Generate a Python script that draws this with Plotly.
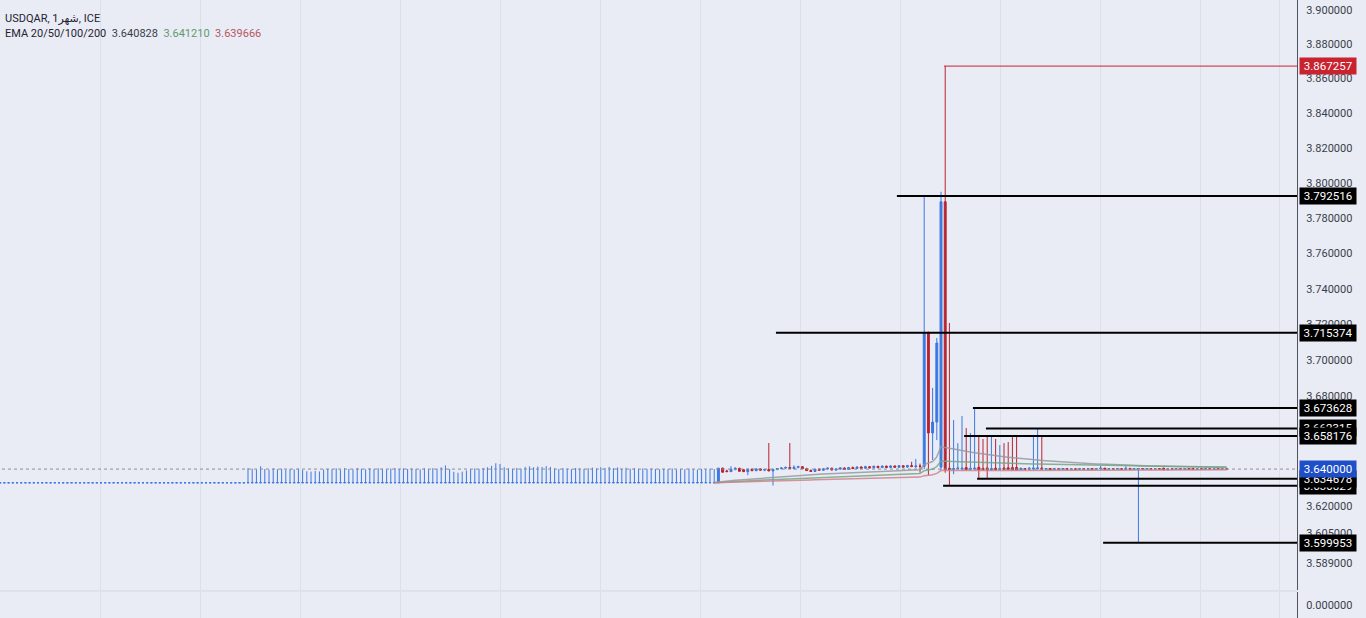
import math
import pandas as pd
import plotly.graph_objects as go

# ---------------- data ----------------
symbol_text = "USDQAR, 1شهر, ICE"
ema_label = "EMA 20/50/100/200"
ema_values_text = ["3.640828", "3.641210", "3.639666"]
ema_periods = [50, 100, 200]

# early flat months (open = high = low = close)
base_level = 3.6325
flat_count = 60

# months with a small up-wick from the base level
seg_c_open = 3.6325
seg_c_close = 3.6326
seg_c_low = 3.6325
seg_c_highs = [
    3.6405, 3.6402, 3.6398, 3.6415, 3.6400, 3.6396, 3.6404, 3.6399, 3.6402, 3.6397,
    3.6401, 3.6398, 3.6403, 3.6395, 3.6388, 3.6386, 3.6390, 3.6387, 3.6398, 3.6402,
    3.6400, 3.6404, 3.6398, 3.6405, 3.6401, 3.6399, 3.6406, 3.6402, 3.6398, 3.6404,
    3.6400, 3.6405, 3.6402, 3.6399, 3.6403, 3.6406, 3.6401, 3.6404, 3.6400, 3.6403,
    3.6401, 3.6398, 3.6404, 3.6400, 3.6405, 3.6402, 3.6410, 3.6420, 3.6400, 3.6385,
    3.6380, 3.6386, 3.6392, 3.6400, 3.6404, 3.6401, 3.6406, 3.6410, 3.6418, 3.6432,
    3.6428, 3.6410, 3.6404, 3.6401, 3.6406, 3.6402, 3.6412, 3.6415, 3.6410, 3.6414,
    3.6411, 3.6416, 3.6412, 3.6404, 3.6401, 3.6405, 3.6402, 3.6400, 3.6406, 3.6403,
    3.6401, 3.6405, 3.6408, 3.6404, 3.6410, 3.6406, 3.6412, 3.6405, 3.6409, 3.6403,
    3.6407, 3.6402, 3.6405, 3.6401, 3.6404, 3.6400, 3.6403, 3.6401, 3.6399, 3.6402,
    3.6400, 3.6403, 3.6398, 3.6401, 3.6399, 3.6402, 3.6400, 3.6397, 3.6401, 3.6399,
    3.6402, 3.6400,
]

# [open, high, low, close] rows
seg_d = [
    [3.6325, 3.6406, 3.6325, 3.6405],
    [3.6405, 3.6408, 3.6380, 3.6383], [3.6390, 3.6397, 3.6384, 3.6386],
    [3.6386, 3.6416, 3.6384, 3.6399], [3.6399, 3.6410, 3.6393, 3.6404],
    [3.6404, 3.6407, 3.6386, 3.6388], [3.6396, 3.6401, 3.6384, 3.6386],
    [3.6386, 3.6402, 3.6367, 3.6399], [3.6399, 3.6404, 3.6389, 3.6391],
    [3.6391, 3.6405, 3.6389, 3.6401], [3.6401, 3.6405, 3.6391, 3.6394],
    [3.6394, 3.6401, 3.6388, 3.6398], [3.6398, 3.6543, 3.6388, 3.6390],
    [3.6390, 3.6402, 3.6310, 3.6398], [3.6398, 3.6406, 3.6394, 3.6403],
    [3.6403, 3.6410, 3.6398, 3.6406], [3.6406, 3.6413, 3.6400, 3.6409],
    [3.6409, 3.6543, 3.6400, 3.6403], [3.6403, 3.6420, 3.6398, 3.6410],
    [3.6410, 3.6418, 3.6404, 3.6413], [3.6413, 3.6416, 3.6399, 3.6402],
    [3.6402, 3.6407, 3.6389, 3.6392], [3.6392, 3.6398, 3.6384, 3.6387],
    [3.6387, 3.6402, 3.6385, 3.6399], [3.6399, 3.6404, 3.6391, 3.6394],
    [3.6394, 3.6405, 3.6390, 3.6401], [3.6401, 3.6409, 3.6397, 3.6405],
    [3.6405, 3.6408, 3.6392, 3.6395], [3.6395, 3.6403, 3.6390, 3.6400],
    [3.6400, 3.6410, 3.6396, 3.6406], [3.6406, 3.6409, 3.6395, 3.6398],
    [3.6398, 3.6412, 3.6395, 3.6408], [3.6408, 3.6414, 3.6400, 3.6403],
    [3.6403, 3.6415, 3.6400, 3.6411], [3.6411, 3.6416, 3.6402, 3.6405],
    [3.6405, 3.6418, 3.6402, 3.6413], [3.6413, 3.6417, 3.6404, 3.6407],
    [3.6407, 3.6419, 3.6404, 3.6415], [3.6415, 3.6418, 3.6405, 3.6408],
    [3.6408, 3.6420, 3.6405, 3.6416], [3.6416, 3.6419, 3.6406, 3.6409],
    [3.6409, 3.6421, 3.6406, 3.6417], [3.6417, 3.6420, 3.6407, 3.6410],
    [3.6410, 3.6422, 3.6407, 3.6418], [3.6418, 3.6421, 3.6408, 3.6411],
    [3.6411, 3.6423, 3.6408, 3.6419], [3.6419, 3.6440, 3.6410, 3.6414],
    [3.6414, 3.6455, 3.6405, 3.6417], [3.6417, 3.6430, 3.6380, 3.6415],
]

seg_e = [
    [3.6415, 3.7925, 3.6400, 3.7154],
    [3.7154, 3.7160, 3.6367, 3.6598],
    [3.6598, 3.6847, 3.6450, 3.6658],
    [3.6658, 3.7124, 3.6559, 3.7096],
    [3.6411, 3.7949, 3.6395, 3.7892],
    [3.7892, 3.8673, 3.6380, 3.6395],
    [3.6405, 3.7208, 3.6308, 3.6398],
]

seg_f = [
    [3.6398, 3.6669, 3.6372, 3.6403], [3.6403, 3.6542, 3.6396, 3.6406],
    [3.6400, 3.6691, 3.6394, 3.6405], [3.6408, 3.6625, 3.6393, 3.6398],
    [3.6398, 3.6598, 3.6395, 3.6404], [3.6400, 3.6736, 3.6396, 3.6405],
    [3.6410, 3.6587, 3.6347, 3.6396], [3.6404, 3.6565, 3.6393, 3.6396],
    [3.6406, 3.6585, 3.6351, 3.6393], [3.6395, 3.6585, 3.6392, 3.6402],
    [3.6405, 3.6565, 3.6394, 3.6397], [3.6397, 3.6531, 3.6394, 3.6403],
    [3.6406, 3.6542, 3.6395, 3.6398], [3.6407, 3.6548, 3.6396, 3.6399],
    [3.6408, 3.6576, 3.6393, 3.6395], [3.6409, 3.6576, 3.6392, 3.6394],
    [3.6398, 3.6410, 3.6395, 3.6403], [3.6403, 3.6406, 3.6396, 3.6399],
    [3.6399, 3.6412, 3.6397, 3.6404], [3.6400, 3.6587, 3.6397, 3.6405],
    [3.6402, 3.6625, 3.6398, 3.6406], [3.6406, 3.6582, 3.6396, 3.6399],
]

seg_g = [
    [3.6399, 3.6406, 3.6395, 3.6403], [3.6403, 3.6405, 3.6396, 3.6398],
    [3.6398, 3.6404, 3.6396, 3.6402], [3.6402, 3.6404, 3.6397, 3.6399],
    [3.6399, 3.6405, 3.6397, 3.6403], [3.6403, 3.6405, 3.6396, 3.6398],
    [3.6398, 3.6403, 3.6396, 3.6401], [3.6401, 3.6404, 3.6397, 3.6399],
    [3.6399, 3.6404, 3.6397, 3.6402], [3.6402, 3.6404, 3.6397, 3.6399],
    [3.6399, 3.6405, 3.6397, 3.6402], [3.6402, 3.6404, 3.6398, 3.6400],
    [3.6400, 3.6404, 3.6398, 3.6402], [3.6402, 3.6418, 3.6398, 3.6405],
    [3.6405, 3.6406, 3.6397, 3.6399], [3.6399, 3.6404, 3.6397, 3.6402],
    [3.6402, 3.6404, 3.6398, 3.6400], [3.6400, 3.6404, 3.6398, 3.6402],
    [3.6402, 3.6404, 3.6397, 3.6399], [3.6399, 3.6415, 3.6397, 3.6404],
    [3.6404, 3.6405, 3.6397, 3.6399], [3.6399, 3.6404, 3.6397, 3.6402],
    [3.6399, 3.6405, 3.59995, 3.6403], [3.6403, 3.6404, 3.6398, 3.6400],
    [3.6400, 3.6404, 3.6398, 3.6402], [3.6402, 3.6403, 3.6398, 3.6400],
    [3.6400, 3.6404, 3.6398, 3.6402], [3.6402, 3.6403, 3.6398, 3.6400],
    [3.6405, 3.6407, 3.6394, 3.6396], [3.6396, 3.6403, 3.6395, 3.6401],
    [3.6401, 3.6403, 3.6398, 3.6400], [3.6400, 3.6403, 3.6398, 3.6402],
    [3.6402, 3.6403, 3.6398, 3.6400], [3.6400, 3.6403, 3.6398, 3.6402],
    [3.6402, 3.6403, 3.6398, 3.6400], [3.6404, 3.6406, 3.6395, 3.6397],
    [3.6397, 3.6403, 3.6396, 3.6401], [3.6401, 3.6403, 3.6398, 3.6400],
    [3.6400, 3.6403, 3.6398, 3.6402], [3.6402, 3.6403, 3.6398, 3.6400],
    [3.6400, 3.6403, 3.6398, 3.6401], [3.6401, 3.6403, 3.6398, 3.6400],
    [3.6400, 3.6403, 3.6398, 3.6401], [3.6401, 3.6402, 3.6399, 3.6400],
]

# horizontal rays drawn on the chart (price, starting bar index)
ray_prices = [3.792516, 3.715374, 3.673628, 3.630829, 3.634678, 3.662315, 3.658176, 3.599953]
ray_starts = [214.5, 185.7, 232.6, 225.5, 233.6, 235.7, 230.5, 263.6]
high_ray_price = 3.867257
high_ray_start = 225.7
last_price = 3.64

y_tick_vals = [3.9, 3.88, 3.86, 3.84, 3.82, 3.80, 3.78, 3.76, 3.74, 3.72, 3.70, 3.68,
               3.62, 3.605, 3.589]
lower_pane_tick = 0.0
grid_bars = [24.76, 48.57, 72.38, 96.19, 120.0, 143.81, 167.62, 191.43, 215.24,
             239.05, 262.86, 286.67, 305.71]

# ---------------- assemble ----------------
opens, highs, lows, closes = [], [], [], []
for _ in range(flat_count):
    opens.append(base_level); highs.append(base_level)
    lows.append(base_level); closes.append(base_level)
for h in seg_c_highs:
    opens.append(seg_c_open); highs.append(h)
    lows.append(seg_c_low); closes.append(seg_c_close)
for seg in (seg_d, seg_e, seg_f, seg_g):
    for o, h, l, c in seg:
        opens.append(o); highs.append(h); lows.append(l); closes.append(c)
bars = list(range(len(closes)))

UP = "#3b78e0"
DOWN = "#b8232f"
BG = "#e9ecf5"
GRID = "#dadfea"
FONT = "Roboto, 'DejaVu Sans', sans-serif"

fig = go.Figure()
fig.add_trace(go.Candlestick(
    x=bars, open=opens, high=highs, low=lows, close=closes,
    increasing=dict(line=dict(color=UP, width=1), fillcolor=UP),
    decreasing=dict(line=dict(color=DOWN, width=1), fillcolor=DOWN),
    whiskerwidth=0, hoverinfo="skip", xaxis="x", yaxis="y",
))

close_series = pd.Series(closes)
ema_colors = ["rgba(150,153,160,0.85)", "rgba(120,165,130,0.85)", "rgba(205,130,138,0.85)"]
start_ema = 171
for n, col in zip(ema_periods, ema_colors):
    ema = close_series.ewm(span=n, adjust=False).mean()
    fig.add_trace(go.Scatter(x=bars[start_ema:], y=list(ema[start_ema:]), mode="lines",
                             line=dict(color=col, width=1.5), hoverinfo="skip"))

fig.add_trace(go.Scatter(x=[0, 400], y=[last_price, last_price], mode="lines",
                         line=dict(color="#8a8d96", width=1, dash="dot"), hoverinfo="skip"))
for p, s in zip(ray_prices, ray_starts):
    fig.add_trace(go.Scatter(x=[s, 400], y=[p, p], mode="lines",
                             line=dict(color="#000000", width=2), hoverinfo="skip"))
fig.add_trace(go.Scatter(x=[high_ray_start, 400], y=[high_ray_price, high_ray_price], mode="lines",
                         line=dict(color="#c8232e", width=1), hoverinfo="skip"))
# empty lower pane
fig.add_trace(go.Scatter(x=[0], y=[lower_pane_tick], mode="lines", opacity=0,
                         hoverinfo="skip", xaxis="x2", yaxis="y2"))

main_h = 590
total_h = 618
ln_top = math.log(3.9) + 10 / 6654
ln_bot = math.log(3.9) - 580 / 6654

fig.update_layout(
    width=1366, height=618, margin=dict(l=0, r=69, t=0, b=0),
    paper_bgcolor=BG, plot_bgcolor=BG, showlegend=False, boxgap=0.35,
    font=dict(family=FONT, size=11, color="#2e323c"),
    xaxis=dict(range=[0.95, 309.76], tickvals=grid_bars, showticklabels=False, ticks="",
               showgrid=True, gridcolor=GRID, gridwidth=1, zeroline=False,
               rangeslider=dict(visible=False), anchor="y"),
    xaxis2=dict(matches="x", range=[0.95, 309.76], tickvals=grid_bars, showticklabels=False,
                ticks="", showgrid=True, gridcolor=GRID, zeroline=False, anchor="y2"),
    yaxis=dict(type="log", domain=[1 - main_h / total_h, 1],
               range=[ln_bot / math.log(10), ln_top / math.log(10)],
               side="right", anchor="x", tickvals=y_tick_vals,
               ticktext=[f"{v:.6f}" for v in y_tick_vals],
               showgrid=False, zeroline=False, showline=True, linecolor="#50535c", linewidth=1,
               ticks="", ticklabelstandoff=6, tickfont=dict(family=FONT, size=11, color="#3a3e48")),
    yaxis2=dict(domain=[0, 26 / total_h], range=[-1, 1], side="right", anchor="x2",
                tickvals=[lower_pane_tick], ticktext=[f"{lower_pane_tick:.6f}"],
                showgrid=False, zeroline=False, showline=True, linecolor="#50535c", linewidth=1,
                ticks="", ticklabelstandoff=6, tickfont=dict(family=FONT, size=11, color="#3a3e48")),
)

fig.add_shape(type="line", xref="paper", yref="paper", x0=0, x1=1,
              y0=1 - 591 / total_h, y1=1 - 591 / total_h, line=dict(color="#d3d7e1", width=1))

def price_label(p, bg):
    fig.add_annotation(x=1, xref="paper", xanchor="left", xshift=2,
                       y=math.log10(p), yref="y", yanchor="middle",
                       text=f"{p:.6f}", showarrow=False, bgcolor=bg, borderpad=1,
                       width=54, align="center",
                       font=dict(family=FONT, size=11.5, color="#ffffff"))

for p in ray_prices[:4]:
    price_label(p, "#000000")
price_label(ray_prices[4], "#000000")
price_label(last_price, "#1e4fc8")
price_label(ray_prices[5], "#000000")
price_label(ray_prices[6], "#000000")
price_label(ray_prices[7], "#000000")
price_label(high_ray_price, "#c8232e")

fig.add_annotation(x=0, xref="paper", xanchor="left", xshift=3, y=1, yref="paper",
                   yanchor="top", yshift=-10, text=symbol_text, showarrow=False,
                   font=dict(family=FONT, size=11, color="#1f2330"))
fig.add_annotation(x=0, xref="paper", xanchor="left", xshift=3, y=1, yref="paper",
                   yanchor="top", yshift=-25,
                   text=(f"{ema_label}&nbsp;&nbsp;<span style='color:#3a3e48'>{ema_values_text[0]}</span>"
                         f"&nbsp;&nbsp;<span style='color:#5f9a6c'>{ema_values_text[1]}</span>"
                         f"&nbsp;&nbsp;<span style='color:#b5575f'>{ema_values_text[2]}</span>"),
                   showarrow=False, font=dict(family=FONT, size=11, color="#1f2330"))

fig.write_html("out.html", config={"displayModeBar": False},
               post_script="document.body.style.margin='0';")
